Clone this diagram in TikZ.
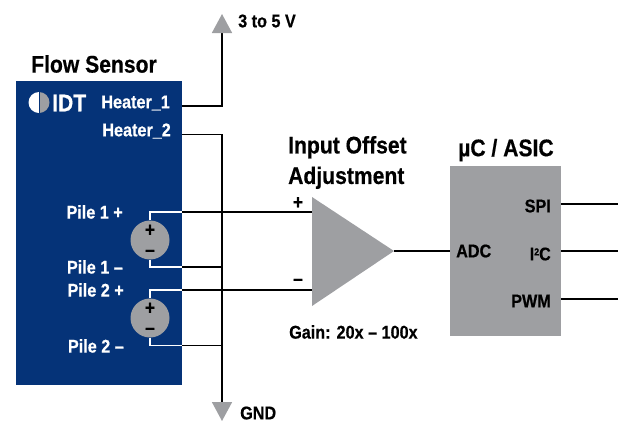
\documentclass[tikz,border=0pt]{standalone}
\usepackage{fontspec}
\setmainfont[FakeStretch=0.88, BoldFeatures={FakeBold=0.5}]{Liberation Sans}
\usetikzlibrary{arrows.meta}
\definecolor{idtblue}{RGB}{5,51,120}
\definecolor{partgray}{RGB}{158,159,162}
\tikzset{
  every node/.style={font=\bfseries\fontsize{18.4}{20}\selectfont, inner sep=0pt},
  heading/.style={font=\bfseries\fontsize{24}{30.5}\selectfont, align=left},
  onblue/.style={text=white, anchor=east},
  wire/.style={draw=black, line width=1.6pt},
  whitewire/.style={draw=white, line width=1.3pt},
  railtip/.style={-{Triangle[length=19pt,width=20pt,color=partgray]}},
  pile/.style={circle, fill=partgray, minimum size=39pt},
  sign/.style={font=\bfseries\fontsize{20}{20}\selectfont}
}
\begin{document}
\begin{tikzpicture}[x=1pt, y=-1pt]
  \useasboundingbox (0,0) rectangle (626,424);
  % boxes
  \node[fill=idtblue, minimum width=166pt, minimum height=304pt] (sensor) at (99,233) {};
  \node[fill=partgray, minimum width=111pt, minimum height=170pt] (asic) at (505.5,251) {};
  \fill[partgray] (312,197) coordinate (ampplus) -- (394,251) coordinate (amptip) -- (312,306) coordinate (ampminus) -- cycle;
  \node[heading, anchor=west] (sensortitle) at (31,64) {Flow Sensor};
  \node[heading, anchor=west] (amptitle) at (288,162.5) {Input Offset\\Adjustment};
  \node[heading, anchor=west] (asictitle) at (458,150) {µC / ASIC};
  % logo
  \fill[white] (39,92) arc (-90:-270:10.5) -- cycle;
  \fill[partgray] (39,92) arc (-90:90:10.5) -- cycle;
  \draw[idtblue, line width=0.8pt] (39,92) -- (39,113);
  \node[text=white, font=\bfseries\fontsize{24}{24}\selectfont, anchor=west] (logo) at (52,103) {IDT};
  % sensor pins
  \node[onblue] (heaterone) at (170,103) {Heater\_1};
  \node[onblue] (heatertwo) at (171,131) {Heater\_2};
  \node[onblue] (pileoneplus) at (123,212) {Pile 1 +};
  \node[onblue] (pileoneminus) at (123,267) {Pile 1 --};
  \node[onblue] (piletwoplus) at (124,290) {Pile 2 +};
  \node[onblue] (piletwominus) at (124,346) {Pile 2 --};
  \node[pile] (pileone) at (150,240) {};
  \node[pile] (piletwo) at (150,318) {};
  \node[sign] at (150,230.5) {+};
  \node[sign] at (150,253) {--};
  \node[sign] at (150,308.5) {+};
  \node[sign] at (150,331) {--};
  % edge points
  \coordinate (hone) at (182,106);
  \coordinate (htwo) at (182,134.5);
  \coordinate (poneplus) at (182,212);
  \coordinate (poneminus) at (182,267);
  \coordinate (ptwoplus) at (182,290);
  \coordinate (ptwominus) at (182,345.5);
  \coordinate (supply) at (222,14);
  \coordinate (ground) at (222,421);
  \coordinate (spiend) at (618,204);
  \coordinate (icend) at (618,251);
  \coordinate (pwmend) at (618,299);
  % white wires
  \draw[whitewire] (pileone.north) |- (poneplus);
  \draw[whitewire] (pileone.south) |- (poneminus);
  \draw[whitewire] (piletwo.north) |- (ptwoplus);
  \draw[whitewire] (piletwo.south) |- (ptwominus);
  % black wires
  \draw[wire, railtip] (hone) -| (supply);
  \draw[wire, railtip] (htwo) -| (ground);
  \draw[wire] (poneplus) -- (312,212);
  \draw[wire] (ptwoplus) -- (312,290);
  \draw[wire] (poneminus) -- (222,267);
  \draw[wire] (ptwominus) -- (222,345.5);
  \draw[wire] (amptip) -- (amptip -| asic.west);
  \draw[wire] (asic.east |- spiend) -- (spiend);
  \draw[wire] (asic.east |- icend) -- (icend);
  \draw[wire] (asic.east |- pwmend) -- (pwmend);
  % labels
  \node[anchor=west] (supplylabel) at (238,21) {3 to 5 V};
  \node[anchor=west] (groundlabel) at (240,413) {GND};
  \node[sign] (ampplussign) at (298,203) {+};
  \node[sign] (ampminussign) at (298,282) {--};
  \node[anchor=west] (gain) at (289,332) {Gain: 20x -- 100x};
  \node[anchor=west] (adc) at (456,251) {ADC};
  \node[anchor=east] (spi) at (551,206) {SPI};
  \node[anchor=east] (ic) at (551,254) {I\raisebox{5pt}{\fontsize{10}{10}\selectfont 2}C};
  \node[anchor=east] (pwm) at (551,301) {PWM};
\end{tikzpicture}
\end{document}
